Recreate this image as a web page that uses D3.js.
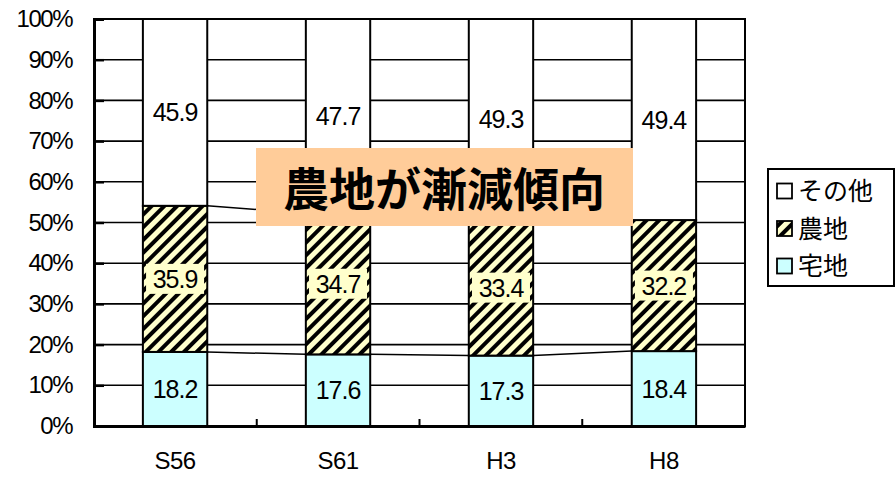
<!DOCTYPE html>
<html>
<head>
<meta charset="utf-8">
<script src="https://cdn.jsdelivr.net/npm/d3@7"></script>
<style>
  body { margin: 0; background: #fff; }
  text { font-family: "Liberation Sans", Arial, sans-serif; }
  .jp { font-family: "Noto Sans CJK JP", sans-serif; }
</style>
</head>
<body>
<div id="chartContainer"></div>
<script>
const categories = ["S56", "S61", "H3", "H8"];
const residential = [18.2, 17.6, 17.3, 18.4];
const farmland = [35.9, 34.7, 33.4, 32.2];
const other = [45.9, 47.7, 49.3, 49.4];
const yTicks = [0, 10, 20, 30, 40, 50, 60, 70, 80, 90, 100];
const seriesNames = ["宅地", "農地", "その他"];
const annotation = "農地が漸減傾向";

const chartWidth = 896, chartHeight = 477;
const margin = { top: 19, right: 151, bottom: 51, left: 94 };
const width = chartWidth - margin.left - margin.right;
const height = chartHeight - margin.top - margin.bottom;

const svg = d3.select("#chartContainer").append("svg")
  .attr("width", chartWidth)
  .attr("height", chartHeight);

// hatch pattern for farmland
const defs = svg.append("defs");
const pat = defs.append("pattern")
  .attr("id", "hatch")
  .attr("patternUnits", "userSpaceOnUse")
  .attr("width", 9).attr("height", 9)
  .attr("patternTransform", "rotate(45)");
pat.append("rect").attr("width", 9).attr("height", 9).attr("fill", "#ffffcc");
pat.append("rect").attr("x", 0).attr("width", 4).attr("height", 9).attr("fill", "#000");

const fills = ["#ccffff", "url(#hatch)", "#ffffff"];

const g = svg.append("g").attr("transform", `translate(${margin.left},${margin.top})`);

const x = d3.scaleBand().domain(categories).range([0, width]).paddingInner(0.605).paddingOuter(0.3);
const y = d3.scaleLinear().domain([0, 100]).range([height, 0]);

// gridlines
g.selectAll(".grid").data(yTicks).enter().append("line")
  .attr("x1", 0).attr("x2", width)
  .attr("y1", d => y(d)).attr("y2", d => y(d))
  .attr("stroke", "#000").attr("stroke-width", 1.6);

// plot border (left/right/top)
g.append("rect").attr("width", width).attr("height", height)
  .attr("fill", "none").attr("stroke", "#000").attr("stroke-width", 2);

// y axis
const yAxis = g.append("g").call(d3.axisLeft(y).tickValues(yTicks).tickFormat(d => d + "%").tickSize(-10).tickPadding(22));
yAxis.select(".domain").attr("stroke-width", 3);
yAxis.selectAll(".tick line").attr("stroke-width", 2.5);
yAxis.selectAll("text").attr("font-size", 24).attr("fill", "#000")
  .attr("font-family", "Liberation Sans, Arial, sans-serif").attr("letter-spacing", -1.5);

// x axis with ticks at band boundaries
const xAxis = g.append("g").attr("transform", `translate(0,${height})`)
  .call(d3.axisBottom(x).tickSize(0).tickPadding(26));
xAxis.select(".domain").attr("stroke-width", 3);
xAxis.selectAll("text").attr("font-size", 24).attr("fill", "#000")
  .attr("font-family", "Liberation Sans, Arial, sans-serif").attr("letter-spacing", -0.5);
const step = width / categories.length;
g.selectAll(".xtick").data(d3.range(1, categories.length)).enter().append("line")
  .attr("x1", d => d * step).attr("x2", d => d * step)
  .attr("y1", height).attr("y2", height - 7)
  .attr("stroke", "#000").attr("stroke-width", 2);

// stacked data
const rows = categories.map((c, i) => ({ cat: c, s0: residential[i], s1: farmland[i], s2: other[i] }));
const stack = d3.stack().keys(["s0", "s1", "s2"])(rows);

// series lines
[0, 1].forEach(k => {
  for (let i = 0; i < categories.length - 1; i++) {
    g.append("line")
      .attr("x1", x(categories[i]) + x.bandwidth())
      .attr("x2", x(categories[i + 1]))
      .attr("y1", y(stack[k][i][1]))
      .attr("y2", y(stack[k][i + 1][1]))
      .attr("stroke", "#000").attr("stroke-width", 1.5);
  }
});

stack.forEach((layer, k) => {
  g.selectAll(".bar" + k).data(layer).enter().append("rect")
    .attr("x", d => x(d.data.cat))
    .attr("width", x.bandwidth())
    .attr("y", d => y(d[1]))
    .attr("height", d => y(d[0]) - y(d[1]))
    .attr("fill", fills[k])
    .attr("stroke", "#000").attr("stroke-width", 2);
});

// data labels
stack.forEach((layer, k) => {
  layer.forEach(d => {
    const cx = x(d.data.cat) + x.bandwidth() / 2;
    const cy = y((d[0] + d[1]) / 2);
    const val = (d[1] - d[0]).toFixed(1);
    if (k === 1) {
      g.append("rect").attr("x", cx - 29).attr("y", cy - 15).attr("width", 58).attr("height", 30)
        .attr("fill", "#ffffcc");
    }
    g.append("text").attr("x", cx).attr("y", cy).attr("dy", "0.36em")
      .attr("text-anchor", "middle").attr("font-size", 25).attr("fill", "#000")
      .attr("letter-spacing", -1)
      .text(val);
  });
});

// annotation box
const ann = svg.append("g");
ann.append("rect").attr("x", 256).attr("y", 148).attr("width", 377).attr("height", 78).attr("fill", "#ffcc99");
ann.append("text").attr("class", "jp").attr("x", 444).attr("y", 189).attr("dy", "0.36em")
  .attr("text-anchor", "middle").attr("font-size", 46).attr("font-weight", "bold")
  .attr("font-family", "Noto Sans CJK JP, sans-serif")
  .text(annotation);

// legend
const leg = svg.append("g").attr("transform", "translate(768,169)");
leg.append("rect").attr("width", 126).attr("height", 117).attr("fill", "#fff").attr("stroke", "#000").attr("stroke-width", 2);
const legItems = [2, 1, 0];
legItems.forEach((k, i) => {
  const yy = 22 + i * 37.5;
  leg.append("rect").attr("x", 9).attr("y", yy - 7.5).attr("width", 15).attr("height", 15)
    .attr("fill", fills[k]).attr("stroke", "#000").attr("stroke-width", 1.8);
  leg.append("text").attr("class", "jp").attr("x", 30).attr("y", yy).attr("dy", "0.36em")
    .attr("font-size", 25).attr("font-family", "Noto Sans CJK JP, sans-serif")
    .text(seriesNames[k]);
});
</script>
</body>
</html>
